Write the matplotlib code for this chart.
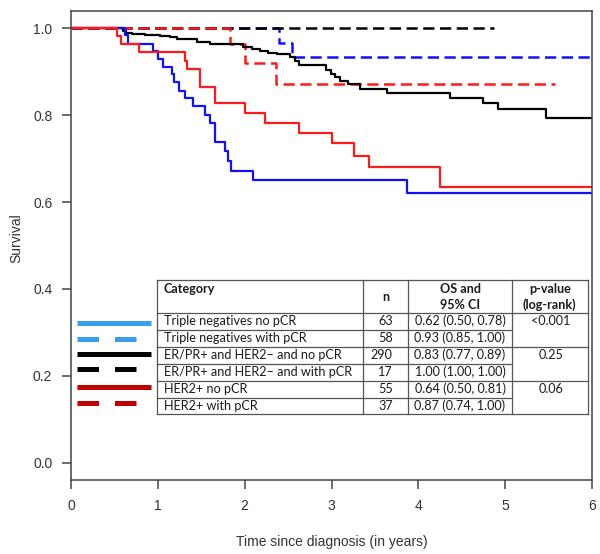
import matplotlib
matplotlib.use("Agg")
import matplotlib.pyplot as plt
from matplotlib.lines import Line2D
from matplotlib.patches import Rectangle

# Kaplan-Meier curves (time in years, survival)
tn_no_t = [0, 0.62, 0.66, 0.95, 1.0, 1.06, 1.16, 1.19, 1.24, 1.31, 1.41, 1.54, 1.60, 1.66,
           1.77, 1.81, 1.84, 2.10, 3.87, 6.0]
tn_no_s = [1.0, 0.985, 0.965, 0.948, 0.929, 0.911, 0.894, 0.877, 0.856, 0.839, 0.821, 0.800,
           0.781, 0.738, 0.717, 0.694, 0.671, 0.650, 0.621, 0.621]

tn_pcr_t = [0, 2.39, 2.54, 6.0]
tn_pcr_s = [1.0, 0.967, 0.933, 0.933]

er_no_t = [0, 0.60, 0.63, 0.70, 0.85, 1.02, 1.14, 1.22, 1.45, 1.60, 1.98, 2.08, 2.18, 2.27,
           2.37, 2.52, 2.58, 2.62, 2.94, 2.99, 3.04, 3.10, 3.19, 3.33, 3.64, 4.36, 4.74,
           4.92, 5.47, 6.0]
er_no_s = [1.0, 0.994, 0.990, 0.987, 0.985, 0.982, 0.979, 0.975, 0.969, 0.964, 0.957, 0.952,
           0.948, 0.944, 0.940, 0.934, 0.925, 0.915, 0.904, 0.896, 0.887, 0.879, 0.871,
           0.860, 0.851, 0.839, 0.827, 0.815, 0.794, 0.794]

er_pcr_t = [0, 4.87]
er_pcr_s = [1.0, 1.0]

her_no_t = [0, 0.53, 0.58, 0.78, 1.31, 1.34, 1.49, 1.66, 2.0, 2.23, 2.63, 3.0, 3.26, 3.43,
            4.25, 6.0]
her_no_s = [1.0, 0.983, 0.964, 0.946, 0.925, 0.906, 0.866, 0.827, 0.806, 0.783, 0.760,
            0.735, 0.707, 0.680, 0.635, 0.635]

her_pcr_t = [0, 1.83, 2.0, 2.36, 5.57]
her_pcr_s = [1.0, 0.964, 0.921, 0.871, 0.871]

# table contents
categories = ["Triple negatives no pCR", "Triple negatives with pCR",
              "ER/PR+ and HER2\u2013 and no pCR", "ER/PR+ and HER2\u2013 and with pCR",
              "HER2+ no pCR", "HER2+ with pCR"]
n_vals = [63, 58, 290, 17, 55, 37]
os_ci = ["0.62 (0.50, 0.78)", "0.93 (0.85, 1.00)", "0.83 (0.77, 0.89)",
         "1.00 (1.00, 1.00)", "0.64 (0.50, 0.81)", "0.87 (0.74, 1.00)"]
p_vals = ["<0.001", "0.25", "0.06"]

W, H = 600, 554
BLUE, RED = "#1010ff", "#ff1a1a"
LEG_COLORS = ["#3a9cf0", "#3a9cf0", "black", "black", "#c00000", "#c00000"]

plt.rcParams["font.family"] = ["Liberation Sans", "DejaVu Sans"]
fig = plt.figure(figsize=(W / 100, H / 100), dpi=100)
ax = fig.add_axes([71 / W, 1 - 480 / H, 521 / W, 469 / H])

dash = (0, (4.5, 2.2))
ax.step(tn_pcr_t, tn_pcr_s, where="post", color=BLUE, lw=1.8, ls=dash)
ax.step(er_pcr_t, er_pcr_s, where="post", color="black", lw=1.8, ls=dash)
ax.step(her_pcr_t, her_pcr_s, where="post", color=RED, lw=1.8, ls=dash)
ax.step(er_no_t, er_no_s, where="post", color="black", lw=1.6)
ax.step(tn_no_t, tn_no_s, where="post", color=BLUE, lw=1.6)
ax.step(her_no_t, her_no_s, where="post", color=RED, lw=1.6)

ax.set_xlim(0, 6)
ax.set_ylim(-0.04, 1.04)
ax.set_xticks(range(7))
ax.set_yticks([0, 0.2, 0.4, 0.6, 0.8, 1.0])
ax.set_yticklabels(["0.0", "0.2", "0.4", "0.6", "0.8", "1.0"])
ax.tick_params(length=6.5, width=1.1, color="#444444", labelsize=10,
               labelcolor="#333333", pad=7)
for s in ax.spines.values():
    s.set_color("#444444")
    s.set_linewidth(1.1)
ax.set_ylabel("Survival", fontsize=10, color="#333333")
ax.yaxis.set_label_coords(-0.092, 0.516)
ax.set_xlabel("Time since diagnosis (in years)", fontsize=10, color="#333333")
ax.xaxis.set_label_coords(0.5, -0.118)


def fx(x):
    return x / W


def fy(y):
    return 1 - y / H


def hline(y, x0, x1):
    fig.add_artist(Line2D([fx(x0), fx(x1)], [fy(y), fy(y)], color="#555555", lw=0.9))


def vline(x, y0, y1):
    fig.add_artist(Line2D([fx(x), fx(x)], [fy(y0), fy(y1)], color="#555555", lw=0.9))


# table grid (pixel positions)
cols = [156.7, 362.7, 408.3, 511.7, 587.7]
rows = [280, 312.7, 329.7, 346.7, 363.7, 380.7, 397.5, 414.3]
fig.add_artist(Rectangle((fx(cols[0]), fy(rows[-1])), fx(cols[-1]) - fx(cols[0]),
                         fy(rows[0]) - fy(rows[-1]), facecolor="white", edgecolor="none"))
for i, y in enumerate(rows):
    full = i in (0, 1, 3, 5, 7)
    hline(y, cols[0], cols[4] if full else cols[3])
for x in cols:
    vline(x, rows[0], rows[-1])

tfont = dict(family=["Lato", "DejaVu Sans"], fontsize=9.1, color="#1a1a1a")
fig.text(fx(164), fy(289), "Category", ha="left", va="center", fontweight="bold", **tfont)
fig.text(fx(385.5), fy(297), "n", ha="center", va="center", fontweight="bold", **tfont)
fig.text(fx(460), fy(289), "OS and", ha="center", va="center", fontweight="bold", **tfont)
fig.text(fx(460), fy(305), "95% CI", ha="center", va="center", fontweight="bold", **tfont)
fig.text(fx(549.7), fy(289), "p-value", ha="center", va="center", fontweight="bold", **tfont)
fig.text(fx(549.7), fy(305), "(log-rank)", ha="center", va="center", fontweight="bold", **tfont)

leg_y = [322.7, 339.3, 354.3, 368.7, 386.7, 403.3]
for i in range(6):
    yc = (rows[i + 1] + rows[i + 2]) / 2
    fig.text(fx(164), fy(yc), categories[i], ha="left", va="center", **tfont)
    fig.text(fx(392.7), fy(yc), str(n_vals[i]), ha="right", va="center", **tfont)
    fig.text(fx(460), fy(yc), os_ci[i], ha="center", va="center", **tfont)
    if i % 2 == 0:
        fig.text(fx(551), fy(yc), p_vals[i // 2], ha="center", va="center", **tfont)
    ls = "-" if i % 2 == 0 else (0, (4.3, 3.2))
    fig.add_artist(Line2D([fx(76.7), fx(151)], [fy(leg_y[i]), fy(leg_y[i])],
                          color=LEG_COLORS[i], lw=3.6, ls=ls, solid_capstyle="butt",
                          dash_capstyle="butt"))

fig.savefig("out.png", dpi=100)
